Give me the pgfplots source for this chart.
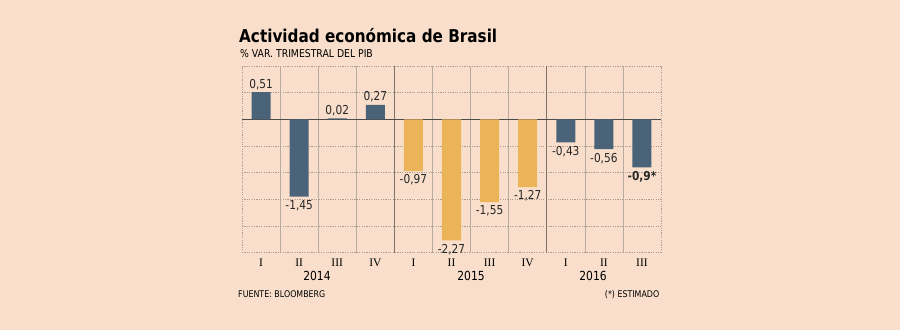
\documentclass[border=0pt]{standalone}
\usepackage{pgfplots}
\pgfplotsset{compat=1.18}
\usepackage{fontspec}
\setmainfont{DejaVu Sans}[FakeStretch=0.86]
\newfontfamily\romanfont{Liberation Serif}
\definecolor{bg}{RGB}{249,223,203}
\definecolor{slate}{RGB}{74,99,120}
\definecolor{gold}{RGB}{236,180,88}
\definecolor{gridc}{RGB}{170,156,146}
\definecolor{vgrid}{RGB}{185,170,160}
\definecolor{sepc}{RGB}{125,115,108}
\begin{document}
\begin{tikzpicture}[x=1bp,y=1bp]
\fill[bg] (0,0) rectangle (900,330);
\useasboundingbox (0,0) rectangle (900,330);
\node[anchor=base west, inner sep=0, font=\bfseries\fontsize{17.7bp}{20bp}\selectfont] at (239,287.3) {Actividad económica de Brasil};
\node[anchor=base west, inner sep=0, font=\fontsize{10.8bp}{12bp}\selectfont] at (240,272.7) {\% VAR. TRIMESTRAL DEL PIB};
\begin{axis}[
  at={(242bp,77.3bp)}, anchor=south west,
  scale only axis, width=419bp, height=186.7bp,
  xmin=-0.5, xmax=10.5, ymin=-2.5, ymax=1,
  separate axis lines,
  x axis line style={draw=none},
  y axis line style={draw=gridc, line width=0.5pt, dash pattern=on 1.2pt off 1.2pt},
  tick style={draw=none},
  ytick={-2.5,-2,-1.5,-1,-0.5,0.5,1}, yticklabels={},
  ymajorgrids,
  major grid style={draw=gridc, line width=0.5pt, dash pattern=on 1.2pt off 1.2pt},
  xtick={0,1,2,3,4,5,6,7,8,9,10},
  xticklabels={I,II,III,IV,I,II,III,IV,I,II,III},
  xticklabel style={font=\romanfont\fontsize{11.5bp}{12bp}\selectfont, anchor=base, yshift=-9.5bp},
  minor xtick={0.5,1.5,2.5,4.5,5.5,6.5,8.5,9.5},
  xminorgrids,
  minor grid style={draw=vgrid, line width=0.5pt},
  extra x ticks={3.5,7.5}, extra x tick labels={},
  extra x tick style={grid=major, major grid style={draw=sepc, line width=0.6pt, solid}},
  extra y ticks={0}, extra y tick labels={},
  extra y tick style={ymajorgrids, major grid style={draw=black!70, line width=0.9pt, solid}},
  ybar, bar width=0.5, bar shift=0pt,
  point meta=explicit symbolic,
  nodes near coords,
  clip=false,
]
\addplot[draw=none, fill=slate,
  nodes near coords style={font=\fontsize{12.3bp}{14bp}\selectfont, text=black!85, anchor=south, inner sep=2.5bp}]
  coordinates {
  (0,0.51) [0,51]
  (2,0.02) [0,02]
  (3,0.27) [0,27]
};
\addplot[draw=none, fill=slate,
  nodes near coords style={font=\fontsize{12.3bp}{14bp}\selectfont, text=black!85, anchor=north, inner sep=3.5bp}]
  coordinates {
  (1,-1.45) [-1,45]
  (8,-0.43) [-0,43]
  (9,-0.56) [-0,56]
  (10,-0.9) [\textbf{-0,9*}]
};
\addplot[draw=none, fill=gold,
  nodes near coords style={font=\fontsize{12.3bp}{14bp}\selectfont, text=black!85, anchor=north, inner sep=3.5bp}]
  coordinates {
  (4,-0.97) [-0,97]
  (5,-2.27) [-2,27]
  (6,-1.55) [-1,55]
  (7,-1.27) [-1,27]
};
\end{axis}
\node[anchor=base, inner sep=0, font=\fontsize{12.5bp}{14bp}\selectfont] at (317,49.3) {2014};
\node[anchor=base, inner sep=0, font=\fontsize{12.5bp}{14bp}\selectfont] at (471,49.3) {2015};
\node[anchor=base, inner sep=0, font=\fontsize{12.5bp}{14bp}\selectfont] at (593,49.3) {2016};
\node[anchor=base west, inner sep=0, font=\fontsize{9.2bp}{11bp}\selectfont] at (238,32.3) {FUENTE: BLOOMBERG};
\node[anchor=base east, inner sep=0, font=\fontsize{9.2bp}{11bp}\selectfont] at (659.5,32.3) {(*) ESTIMADO};
\end{tikzpicture}
\end{document}
